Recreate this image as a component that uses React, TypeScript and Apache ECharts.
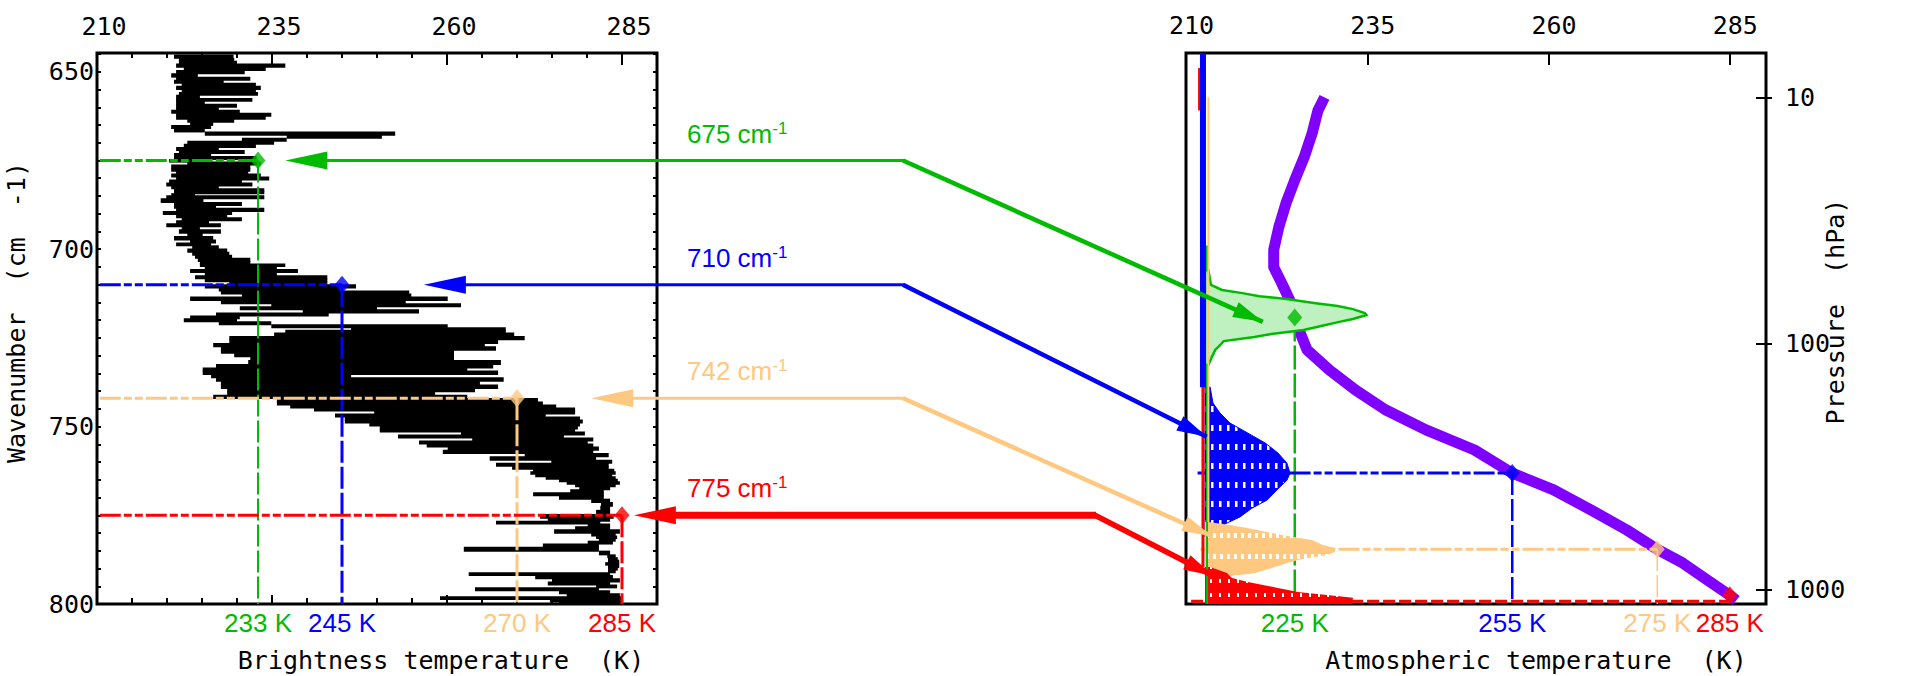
import React, { useEffect, useRef } from 'react';
import * as echarts from 'echarts';

const MONO = '"DejaVu Sans Mono", "Liberation Mono", monospace';
const SANS = '"Liberation Sans", Arial, sans-serif';

// Brightness-temperature spectrum, one row per sample: wavenumber (cm-1) with the
// lowest and highest brightness temperature (K) reached within that row.
const spectrumWavenumber = [
  645.7, 646.6, 647.4, 648.2, 649.2, 650.1, 651.0, 652.0, 652.8, 653.6,
  654.5, 655.5, 656.1, 657.1, 657.9, 658.7, 659.6, 660.4, 661.3, 662.1,
  663.0, 663.8, 664.7, 665.5, 666.4, 667.5, 668.3, 669.2, 670.0, 670.9,
  671.7, 672.6, 673.4, 674.3, 675.1, 675.8, 676.7, 677.6, 678.4, 679.2,
  680.1, 680.9, 681.8, 682.6, 683.3, 684.0, 684.7, 685.2, 686.4, 687.3,
  688.0, 688.9, 689.9, 690.6, 691.6, 692.4, 693.2, 694.1, 695.0, 696.0,
  696.9, 697.9, 698.6, 699.5, 700.4, 701.3, 702.1, 703.0, 703.9, 704.4,
  705.4, 706.1, 707.0, 707.9, 708.8, 709.6, 710.5, 711.3, 712.2, 713.0,
  714.0, 714.9, 715.8, 716.7, 717.5, 718.4, 719.2, 720.0, 720.9, 721.7,
  722.6, 723.1, 724.2, 725.0, 726.1, 727.0, 728.0, 728.9, 729.8, 730.8,
  732.0, 733.0, 733.9, 734.8, 735.8, 736.7, 737.8, 738.8, 739.7, 740.7,
  741.6, 742.6, 743.5, 744.3, 745.2, 746.0, 746.9, 747.7, 748.6, 749.4,
  750.2, 751.1, 751.9, 752.8, 753.6, 754.5, 755.3, 756.2, 757.1, 758.0,
  759.0, 759.9, 760.8, 761.6, 762.4, 763.1, 763.8, 764.5, 765.2, 765.9,
  766.6, 767.3, 768.3, 769.0, 770.0, 770.9, 771.9, 773.0, 774.2, 775.3,
  776.3, 777.0, 777.9, 778.6, 779.6, 780.5, 781.2, 781.9, 782.7, 783.5,
  784.5, 785.7, 786.6, 787.3, 788.0, 788.7, 789.4, 790.1, 790.8, 791.6,
  792.4, 793.4, 794.2, 795.1, 795.8, 796.7, 797.5, 798.4, 799.1, 799.8,
];
const spectrumLow = [
  221.0, 221.7, 221.7, 221.3, 222.4, 221.3, 220.6, 221.3, 221.0, 222.1,
  221.3, 222.1, 221.7, 221.3, 221.3, 221.3, 221.3, 221.3, 220.6, 221.3,
  221.3, 222.9, 223.3, 220.6, 221.0, 225.4, 237.1, 230.7, 222.9, 222.4,
  221.3, 221.7, 221.0, 221.0, 220.3, 222.9, 220.6, 220.6, 221.3, 220.6,
  221.3, 220.3, 219.9, 220.6, 221.0, 221.0, 220.6, 219.9, 219.1, 221.0,
  221.0, 221.3, 219.4, 221.3, 222.1, 221.3, 219.9, 222.1, 221.7, 222.9,
  221.0, 223.3, 221.3, 223.6, 222.9, 223.6, 224.0, 224.4, 224.7, 224.7,
  225.4, 223.3, 225.4, 224.0, 225.4, 228.9, 225.4, 227.4, 227.7, 230.7,
  223.3, 227.7, 234.9, 230.4, 239.4, 227.0, 223.3, 222.4, 227.4, 234.9,
  246.3, 236.9, 235.3, 228.9, 228.9, 226.6, 227.7, 227.7, 229.6, 231.9,
  231.6, 227.0, 225.1, 225.1, 226.3, 227.0, 227.7, 227.7, 228.6, 228.6,
  226.6, 235.7, 235.7, 237.6, 241.0, 249.6, 244.0, 245.4, 245.4, 248.9,
  250.4, 250.4, 262.0, 253.0, 263.6, 256.0, 257.1, 260.1, 259.4, 271.1,
  266.1, 274.9, 267.0, 269.3, 272.3, 271.9, 272.6, 274.1, 276.0, 277.1,
  278.3, 278.9, 277.6, 272.3, 276.0, 280.6, 282.0, 281.9, 281.3, 273.3,
  274.4, 267.0, 280.1, 278.3, 275.3, 280.6, 281.3, 281.7, 280.1, 273.7,
  262.4, 281.7, 282.9, 283.0, 283.0, 282.6, 283.0, 283.0, 283.0, 263.1,
  272.6, 275.0, 274.4, 281.3, 264.0, 276.0, 277.1, 259.0, 274.7, 276.0,
];
const spectrumHigh = [
  229.5, 229.6, 230.0, 236.9, 234.1, 231.1, 224.4, 231.9, 228.1, 232.7,
  233.4, 232.7, 233.0, 224.7, 232.2, 225.4, 230.0, 227.4, 230.4, 234.9,
  234.1, 229.6, 226.6, 226.3, 225.4, 252.6, 250.7, 237.1, 235.3, 232.7,
  227.4, 231.1, 226.3, 232.8, 224.7, 233.4, 231.9, 231.9, 231.6, 233.4,
  234.6, 230.7, 232.2, 227.4, 233.9, 233.9, 224.0, 233.9, 225.2, 230.7,
  227.0, 233.9, 229.3, 228.6, 230.7, 226.0, 227.7, 224.7, 227.7, 225.1,
  226.6, 227.0, 226.3, 227.4, 228.6, 228.9, 229.3, 231.9, 231.9, 236.9,
  235.7, 238.7, 235.7, 242.9, 242.9, 242.9, 247.0, 244.7, 254.6, 254.9,
  260.1, 254.1, 262.0, 250.0, 256.0, 243.1, 230.4, 230.0, 234.9, 260.1,
  268.4, 268.4, 269.6, 271.1, 267.3, 265.4, 267.0, 261.0, 261.0, 261.0,
  267.7, 266.6, 262.9, 267.3, 246.3, 268.1, 264.7, 267.3, 264.0, 258.3,
  262.9, 273.0, 273.7, 275.6, 278.3, 278.3, 274.1, 279.0, 279.4, 279.0,
  278.7, 278.3, 279.7, 276.7, 280.9, 280.1, 280.9, 281.7, 280.9, 283.1,
  281.3, 283.6, 283.1, 283.1, 283.9, 284.1, 283.6, 284.1, 284.4, 284.7,
  284.1, 283.3, 282.4, 282.4, 282.4, 283.3, 283.7, 283.3, 283.3, 283.8,
  283.3, 281.9, 283.3, 283.3, 284.7, 284.1, 284.3, 284.1, 283.7, 281.7,
  281.7, 283.3, 284.1, 284.4, 284.6, 284.6, 284.6, 284.4, 284.1, 283.3,
  283.7, 284.7, 283.3, 284.3, 281.7, 283.3, 284.7, 285.0, 285.0, 285.0,
];

// Sounding channels
const channelWavenumber = [675, 710, 742, 775];
const channelBrightnessT = [233, 245, 270, 285];
const channelAtmosphericT = [225, 255, 275, 285];
const channelPressure = [78.5, 337, 688, 1057];
const channelColor = ['#00bb00', '#0000ff', '#ffc880', '#ff0000'];

// Arrows linking each weighting function to its brightness temperature
const arrowTipBT = [236.9, 256.7, 280.6, 286.7];
const arrowEndWeight = [0.34, 0.01, 0.04, 0.05];
const arrowEndPressure = [81.8, 240, 607, 883];

// Atmospheric temperature profile
const profilePressure = [10, 11.3, 14.0, 17.5, 21.7, 26.9, 33.7, 41.7, 49.0, 56.9, 66.7, 78.5, 88.3, 106.4, 128.5, 154.9, 186.2, 224.9, 271.6, 337, 394.5, 476.4, 574.1, 688, 781.6, 916.2, 1057, 1109];
const profileTemperature = [229.1, 228.2, 227.4, 226.3, 225.0, 223.8, 222.8, 222.1, 222.1, 223.2, 224.3, 225.0, 225.6, 226.7, 229.8, 233.4, 237.5, 243.1, 249.8, 255.0, 260.7, 265.9, 270.8, 275.0, 278.5, 281.9, 285.0, 285.9];

// Weighting functions (relative weight against pressure, hPa)
const greenWeightP = [50.4, 57.9, 60.7, 62.5, 64.3, 66.1, 68.5, 70.5, 72.6, 75.3, 76.7, 79.6, 81.8, 84.9, 88.3, 91.6, 94.2, 97.9, 101.6, 106.4, 113.8, 122.5];
const greenWeight = [0.02, 0.035, 0.10, 0.22, 0.32, 0.48, 0.64, 0.78, 0.87, 0.94, 0.95, 0.87, 0.79, 0.69, 0.58, 0.39, 0.29, 0.11, 0.09, 0.06, 0.04, 0.02];
const blueWeightP = [150.7, 175, 192, 211, 232, 254, 279, 307, 337, 360, 394, 434, 468, 508, 538, 574, 613];
const blueWeight = [0.03, 0.047, 0.088, 0.147, 0.253, 0.353, 0.429, 0.482, 0.50, 0.482, 0.424, 0.365, 0.276, 0.206, 0.129, 0.059, 0.029];
const orangeWeightP = [533, 548, 564, 591, 613, 631, 661, 680, 705, 726, 754, 782, 820, 859, 875, 900];
const orangeWeight = [0.02, 0.147, 0.247, 0.394, 0.518, 0.629, 0.694, 0.765, 0.765, 0.718, 0.571, 0.482, 0.394, 0.294, 0.206, 0.05];
const redWeightP = [811, 859, 900, 934, 960, 988, 1026, 1055, 1084, 1127, 1148];
const redWeight = [0.03, 0.129, 0.159, 0.253, 0.341, 0.429, 0.547, 0.718, 0.871, 0.865, 0.865];

// Near-zero tails of the weighting functions
const blueTailP = [6.6, 151];
const redTailP = [150, 811];
const redUpperTailP = [7.6, 11.3];
const orangeTailP = [10, 533];
const greenUpperTailP = [40, 50.4];
const greenLowerTailP = [122.5, 1148];

// Axis ticks and labels
const temperatureLabels = [210, 235, 260, 285];
const temperatureMajorTicks = [235, 260, 285];
const temperatureMinorTicks = [215, 220, 225, 230, 240, 245, 250, 255, 265, 270, 275, 280];
const wavenumberLabels = [650, 700, 750, 800];
const wavenumberTicks = [645, 650, 655, 660, 665, 670, 675, 680, 685, 690, 695, 700, 705, 710, 715, 720, 725, 730, 735, 740, 745, 750, 755, 760, 765, 770, 775, 780, 785, 790, 795, 800];
const pressureLabels = [10, 100, 1000];

const lg = (p: number) => Math.log10(p);

function hatch(base: string, w: number, h: number, dx: number, dy: number, dw: number, dh: number) {
  const c = document.createElement('canvas');
  c.width = w;
  c.height = h;
  const ctx = c.getContext('2d');
  if (ctx) {
    ctx.fillStyle = base;
    ctx.fillRect(0, 0, w, h);
    ctx.fillStyle = '#ffffff';
    ctx.fillRect(dx, dy, dw, dh);
  }
  return { image: c.toDataURL(), repeat: 'repeat', imageWidth: w, imageHeight: h };
}

export default function App() {
  const ref = useRef<HTMLDivElement>(null);

  useEffect(() => {
    if (!ref.current) return;
    const chart = echarts.init(ref.current, null, { renderer: 'svg' });

    const pTop = lg(6.6);
    const pBottom = lg(1148);

    const richLabels = (vals: number[]) => {
      const rich: any = {};
      vals.forEach((_, i) => {
        rich['c' + i] = { color: channelColor[i], fontFamily: SANS, fontSize: 26 };
      });
      return {
        rich,
        formatter: (v: number) => {
          const i = vals.indexOf(Number(v));
          return i < 0 ? '' : `{c${i}|${v} K}`;
        },
      };
    };

    const axisBase = { type: 'value', axisLine: { show: false, onZero: false }, splitLine: { show: false } };
    const tickStyle = { color: '#000', width: 2 };
    const nameStyle = { fontFamily: MONO, fontSize: 25, color: '#000' };
    const labelStyle = { fontFamily: MONO, fontSize: 25, color: '#000' };

    const leftBottomLabels = richLabels(channelBrightnessT);
    const rightBottomLabels = richLabels(channelAtmosphericT);

    const xAxis: any[] = [
      // 0: brightness temperature, top, labelled
      {
        ...axisBase, gridIndex: 0, position: 'top', min: 210, max: 290,
        axisTick: { show: true, inside: true, length: 12, lineStyle: tickStyle, customValues: temperatureMajorTicks },
        axisLabel: { ...labelStyle, customValues: temperatureLabels, margin: 14, padding: [0, 0, 0, 14] },
      },
      // 1: minor ticks, top
      {
        ...axisBase, gridIndex: 0, position: 'top', min: 210, max: 290,
        axisTick: { show: true, inside: true, length: 5, lineStyle: tickStyle, customValues: temperatureMinorTicks },
        axisLabel: { show: false },
      },
      // 2: brightness temperature, bottom, channel values
      {
        ...axisBase, gridIndex: 0, position: 'bottom', min: 210, max: 290,
        axisTick: { show: true, inside: true, length: 9, lineStyle: tickStyle, customValues: temperatureMajorTicks },
        axisLabel: { customValues: channelBrightnessT, margin: 6, ...leftBottomLabels },
        name: 'Brightness temperature  (K)', nameLocation: 'middle', nameGap: 44,
        nameTextStyle: { ...nameStyle, padding: [0, 0, 0, 128] }, nameMoveOverlap: false,
      },
      // 3: minor ticks, bottom
      {
        ...axisBase, gridIndex: 0, position: 'bottom', min: 210, max: 290,
        axisTick: { show: true, inside: true, length: 6, lineStyle: tickStyle, customValues: temperatureMinorTicks },
        axisLabel: { show: false },
      },
      // 4: atmospheric temperature, top
      {
        ...axisBase, gridIndex: 1, position: 'top', min: 210, max: 290,
        axisTick: { show: true, inside: true, length: 12, lineStyle: tickStyle, customValues: temperatureMajorTicks },
        axisLabel: { ...labelStyle, customValues: temperatureLabels, margin: 15, padding: [0, 0, 0, 11] },
      },
      // 5: atmospheric temperature, bottom, channel values
      {
        ...axisBase, gridIndex: 1, position: 'bottom', min: 210, max: 290,
        axisTick: { show: false },
        axisLabel: { customValues: channelAtmosphericT, margin: 6, ...rightBottomLabels },
        name: 'Atmospheric temperature  (K)', nameLocation: 'middle', nameGap: 44,
        nameTextStyle: { ...nameStyle, padding: [0, 0, 0, 120] }, nameMoveOverlap: false,
      },
      // 6: relative weight (hidden)
      { ...axisBase, gridIndex: 1, position: 'bottom', min: -0.1118, max: 3.3, show: false },
    ];

    const yAxis: any[] = [
      // 0: wavenumber, left
      {
        ...axisBase, gridIndex: 0, position: 'left', min: 644.7, max: 800, inverse: true,
        axisTick: { show: true, inside: true, length: 4, lineStyle: tickStyle, customValues: wavenumberTicks },
        axisLabel: { ...labelStyle, customValues: wavenumberLabels, margin: 3 },
        name: 'Wavenumber  (cm  -1)', nameLocation: 'middle', nameGap: 68, nameRotate: 90,
        nameTextStyle: { ...nameStyle, padding: [0, 0, 0, 32] }, nameMoveOverlap: false,
      },
      // 1: wavenumber ticks, right
      {
        ...axisBase, gridIndex: 0, position: 'right', min: 644.7, max: 800, inverse: true,
        axisTick: { show: true, inside: true, length: 4, lineStyle: tickStyle, customValues: wavenumberTicks },
        axisLabel: { show: false },
      },
      // 2: pressure (log10 hPa), right
      {
        ...axisBase, gridIndex: 1, position: 'right', min: pTop, max: pBottom, inverse: true,
        axisTick: { show: true, inside: true, length: 10, lineStyle: tickStyle, customValues: pressureLabels.map(lg) },
        axisLabel: {
          ...labelStyle, customValues: pressureLabels.map(lg), margin: 19,
          formatter: (v: number) => String(Math.round(Math.pow(10, v))),
        },
        name: 'Pressure  (hPa)', nameLocation: 'middle', nameGap: 57, nameRotate: 90,
        nameTextStyle: { ...nameStyle, padding: [0, 0, 0, 34] }, nameMoveOverlap: false,
      },
      // 3: pressure ticks outside
      {
        ...axisBase, gridIndex: 1, position: 'right', min: pTop, max: pBottom, inverse: true,
        axisTick: { show: true, inside: false, length: 6, lineStyle: tickStyle, customValues: pressureLabels.map(lg) },
        axisLabel: { show: false },
      },
    ];

    const series: any[] = [];

    // Spectrum rows (slightly overlapped so neighbouring rows join without seams)
    const n = spectrumWavenumber.length;
    series.push({
      type: 'custom',
      xAxisIndex: 0,
      yAxisIndex: 0,
      clip: true,
      silent: true,
      z: 2,
      encode: { x: [0, 2], y: 1 },
      data: spectrumWavenumber.map((w, i) => [spectrumLow[i], w, spectrumHigh[i]]),
      renderItem: (params: any, api: any) => {
        const i = params.dataIndex;
        const wn = spectrumWavenumber[i];
        const prev = i > 0 ? spectrumWavenumber[i - 1] : wn - 0.9;
        const next = i < n - 1 ? spectrumWavenumber[i + 1] : wn + 0.9;
        const a = api.coord([spectrumLow[i], (prev + wn) / 2]);
        const b = api.coord([spectrumHigh[i], (wn + next) / 2]);
        const top = Math.min(a[1], b[1]) - 0.5;
        const h = Math.abs(b[1] - a[1]) + 1;
        return {
          type: 'rect',
          shape: { x: a[0], y: top, width: Math.max(1, b[0] - a[0]), height: h },
          style: { fill: '#000' },
        };
      },
    });

    // Channel guide lines on the spectrum
    channelWavenumber.forEach((wn, i) => {
      const color = channelColor[i];
      const bt = channelBrightnessT[i];
      series.push({
        type: 'line', xAxisIndex: 0, yAxisIndex: 0, symbol: 'none', silent: true, z: 3,
        data: [[210.4, wn], [bt, wn]],
        lineStyle: { color, width: 3, type: [21, 3, 8, 3, 8, 3] },
      });
      series.push({
        type: 'line', xAxisIndex: 0, yAxisIndex: 0, symbol: 'none', silent: true, z: 3,
        data: [[bt, wn], [bt, 800]],
        lineStyle: { color, width: i === 0 ? 2 : 3, type: [22, 4] },
      });
    });
    series.push({
      type: 'scatter', xAxisIndex: 0, yAxisIndex: 0, symbol: 'diamond', symbolSize: [15, 18], silent: true, z: 5,
      data: channelWavenumber.map((wn, i) => ({ value: [channelBrightnessT[i], wn], itemStyle: { color: channelColor[i] } })),
    });

    // Temperature profile
    series.push({
      type: 'line', xAxisIndex: 4, yAxisIndex: 2, symbol: 'none', silent: true, z: 2,
      data: profilePressure.map((p, i) => [profileTemperature[i], lg(p)]),
      lineStyle: { color: '#8000ff', width: 11, join: 'round' },
    });

    // Channel guide lines on the profile
    const dashH = [21, 3, 8, 3, 8, 3];
    series.push(
      {
        type: 'line', xAxisIndex: 4, yAxisIndex: 2, symbol: 'none', silent: true, z: 3,
        data: [[channelAtmosphericT[0], lg(channelPressure[0])], [channelAtmosphericT[0], pBottom]],
        lineStyle: { color: channelColor[0], width: 2.5, type: [24, 4] },
      },
      {
        type: 'line', xAxisIndex: 4, yAxisIndex: 2, symbol: 'none', silent: true, z: 3,
        data: [[211.6, lg(channelPressure[1])], [channelAtmosphericT[1], lg(channelPressure[1])]],
        lineStyle: { color: channelColor[1], width: 3, type: dashH },
      },
      {
        type: 'line', xAxisIndex: 4, yAxisIndex: 2, symbol: 'none', silent: true, z: 3,
        data: [[channelAtmosphericT[1], lg(channelPressure[1])], [channelAtmosphericT[1], pBottom]],
        lineStyle: { color: channelColor[1], width: 2.5, type: [22, 4] },
      },
      {
        type: 'line', xAxisIndex: 4, yAxisIndex: 2, symbol: 'none', silent: true, z: 3,
        data: [[212, lg(channelPressure[2])], [channelAtmosphericT[2], lg(channelPressure[2])]],
        lineStyle: { color: channelColor[2], width: 3, type: dashH },
      },
      {
        type: 'line', xAxisIndex: 4, yAxisIndex: 2, symbol: 'none', silent: true, z: 3,
        data: [[channelAtmosphericT[2], lg(channelPressure[2])], [channelAtmosphericT[2], pBottom]],
        lineStyle: { color: channelColor[2], width: 1.5, type: [22, 4] },
      },
      {
        type: 'line', xAxisIndex: 4, yAxisIndex: 2, symbol: 'none', silent: true, z: 3,
        data: [[210.7, lg(1120)], [channelAtmosphericT[3], lg(1120)]],
        lineStyle: { color: channelColor[3], width: 3, type: [12, 4] },
      },
    );

    // Weighting functions
    const weightSets = [
      { p: greenWeightP, w: greenWeight },
      { p: blueWeightP, w: blueWeight },
      { p: orangeWeightP, w: orangeWeight },
      { p: redWeightP, w: redWeight },
    ];
    const fills: any[] = [
      '#bff0bf',
      hatch('#0000ff', 8, 19, 3, 7, 2.5, 6),
      hatch('#ffc880', 7, 21, 2, 8, 3, 5),
      hatch('#ff0000', 9, 14, 4, 5, 2, 4),
    ];
    const tail = (p: number[], w: number, color: string, width: number) => ({
      type: 'line', xAxisIndex: 6, yAxisIndex: 2, symbol: 'none', silent: true, z: 4,
      data: p.map((v) => [w, lg(v)]),
      lineStyle: { color, width },
    });
    series.push(
      tail(greenUpperTailP, 0.012, channelColor[0], 2),
      tail(greenLowerTailP, 0.012, channelColor[0], 2),
      tail(orangeTailP, 0.02, channelColor[2], 2),
      tail(redUpperTailP, -0.035, channelColor[3], 2),
      tail(redTailP, -0.012, channelColor[3], 3),
    );
    series.push({
      type: 'custom', xAxisIndex: 6, yAxisIndex: 2, clip: true, silent: true, z: 4,
      encode: { x: 0, y: 1 },
      data: weightSets.map((s) => [0, lg(s.p[0])]),
      renderItem: (params: any, api: any) => {
        const k = params.dataIndex;
        const s = weightSets[k];
        const pts = s.p.map((p, i) => api.coord([s.w[i], lg(p)]));
        const first = api.coord([0, lg(s.p[0])]);
        const last = api.coord([0, lg(s.p[s.p.length - 1])]);
        return {
          type: 'polygon',
          shape: { points: [first, ...pts, last] },
          style: {
            fill: fills[k],
            stroke: k === 0 ? channelColor[0] : k === 1 ? channelColor[1] : 'none',
            lineWidth: k === 0 ? 2.5 : 1,
          },
        };
      },
    });
    series.push(tail(blueTailP, -0.012, channelColor[1], 6));
    series.push({
      type: 'scatter', xAxisIndex: 4, yAxisIndex: 2, symbol: 'diamond', symbolSize: [15, 18], silent: true, z: 5,
      data: channelPressure.map((p, i) => ({ value: [channelAtmosphericT[i], lg(p)], itemStyle: { color: channelColor[i] } })),
    });

    chart.setOption({
      animation: false,
      backgroundColor: '#ffffff',
      grid: [
        { left: 97, top: 53, width: 560, height: 551, show: true, borderColor: '#000', borderWidth: 3, backgroundColor: 'transparent', outerBoundsMode: 'none' },
        { left: 1186, top: 53, width: 580, height: 551, show: true, borderColor: '#000', borderWidth: 3, backgroundColor: 'transparent', outerBoundsMode: 'none' },
      ],
      xAxis,
      yAxis,
      series,
    });

    // Arrows and channel captions between the two panels
    const elbowX = [903, 903, 903, 1095];
    const g: any[] = [];
    channelWavenumber.forEach((wn, i) => {
      const color = channelColor[i];
      const tip = chart.convertToPixel({ xAxisIndex: 0, yAxisIndex: 0 } as any, [arrowTipBT[i], wn]) as any;
      const end = chart.convertToPixel({ xAxisIndex: 6, yAxisIndex: 2 } as any, [arrowEndWeight[i], lg(arrowEndPressure[i])]) as any;
      const y = tip[1];
      const ex = elbowX[i];
      const hw = i === 3 ? 7 : 3;
      const dw = i === 3 ? 5.5 : 4.5;
      g.push({ type: 'line', z: 10, shape: { x1: tip[0] + 30, y1: y, x2: ex + 1, y2: y }, style: { stroke: color, lineWidth: hw } });
      g.push({
        type: 'polygon', z: 10,
        shape: { points: [[tip[0], y], [tip[0] + 42, y - 9], [tip[0] + 42, y + 9]] },
        style: { fill: color },
      });
      g.push({ type: 'line', z: 10, shape: { x1: ex, y1: y, x2: end[0], y2: end[1] }, style: { stroke: color, lineWidth: dw } });
      const dx = end[0] - ex;
      const dy = end[1] - y;
      const len = Math.sqrt(dx * dx + dy * dy);
      const ux = dx / len;
      const uy = dy / len;
      const bx = end[0] - ux * 30;
      const by = end[1] - uy * 30;
      g.push({
        type: 'polygon', z: 10,
        shape: { points: [[end[0], end[1]], [bx - uy * 8, by + ux * 8], [bx + uy * 8, by - ux * 8]] },
        style: { fill: color },
      });
      g.push({
        type: 'text', z: 10, x: 687, y: y - 27,
        style: {
          text: `{n|${wn} cm}{s|-1}`,
          verticalAlign: 'middle',
          rich: {
            n: { fontSize: 26, fontFamily: SANS, fill: color, lineHeight: 28 },
            s: { fontSize: 17, fontFamily: SANS, fill: color, verticalAlign: 'top', lineHeight: 14 },
          },
        },
      });
    });
    chart.setOption({ graphic: g });

    return () => chart.dispose();
  }, []);

  return (
    <div
      ref={ref}
      style={{ position: 'absolute', left: 0, top: 0, width: 1905, height: 676, background: '#fff' }}
    />
  );
}
